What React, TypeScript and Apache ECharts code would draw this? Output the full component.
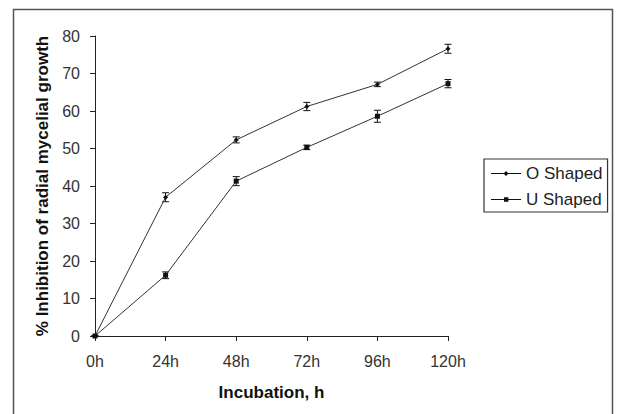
import React, { useEffect, useRef } from "react";
import * as echarts from "echarts";

const categories = ["0h", "24h", "48h", "72h", "96h", "120h"];
const oShaped = [0, 37, 52.3, 61.2, 67.1, 76.6];
const oErr = [0, 1.2, 0.8, 1.1, 0.6, 1.2];
const uShaped = [0, 16.2, 41.3, 50.3, 58.6, 67.3];
const uErr = [0, 0.9, 1.2, 0.6, 1.6, 1.1];
const yTicks = { min: 0, max: 80, interval: 10 };

const errData = (vals: number[], errs: number[]) =>
  vals.map((v, i) => [i, v - errs[i], v + errs[i]]);

const renderErr = (params: any, api: any) => {
  const x = api.value(0);
  const lo = api.coord([x, api.value(1)]);
  const hi = api.coord([x, api.value(2)]);
  const w = 3.5;
  const style = { stroke: "#111", lineWidth: 1 };
  return {
    type: "group",
    children: [
      { type: "line", shape: { x1: lo[0], y1: lo[1], x2: hi[0], y2: hi[1] }, style },
      { type: "line", shape: { x1: lo[0] - w, y1: lo[1], x2: lo[0] + w, y2: lo[1] }, style },
      { type: "line", shape: { x1: hi[0] - w, y1: hi[1], x2: hi[0] + w, y2: hi[1] }, style },
    ],
  };
};

const diamondIcon =
  "path://M0,2.1 L30,2.1 L30,2.9 L0,2.9 Z M15,0 L17.5,2.5 L15,5 L12.5,2.5 Z";
const squareIcon =
  "path://M0,2.1 L30,2.1 L30,2.9 L0,2.9 Z M13,0.3 L17.4,0.3 L17.4,4.7 L13,4.7 Z M13,0 L13,0 L13,5 Z";

export default function App() {
  const ref = useRef<HTMLDivElement>(null);
  useEffect(() => {
    if (!ref.current) return;
    const chart = echarts.init(ref.current, undefined, { renderer: "svg" });
    const font = "'Liberation Sans', Arial, sans-serif";
    chart.setOption({
      animation: false,
      backgroundColor: "#fff",
      textStyle: { fontFamily: font },
      graphic: [
        {
          type: "rect",
          shape: { x: 13.5, y: 9.5, width: 599, height: 430 },
          style: { fill: "none", stroke: "#555", lineWidth: 1.5 },
          silent: true,
        },
      ],
      grid: { left: 95, right: 169, top: 36, bottom: 78 },
      legend: {
        orient: "vertical",
        left: 484,
        top: 159,
        padding: [6, 5, 4, 7],
        borderColor: "#333",
        borderWidth: 1.2,
        itemWidth: 30,
        itemHeight: 5,
        itemGap: 9,
        textStyle: { fontSize: 17, color: "#222", fontFamily: font, padding: [0, 0, 0, 0] },
        data: [
          { name: "O Shaped", icon: diamondIcon },
          { name: "U Shaped", icon: squareIcon },
        ],
      },
      xAxis: {
        type: "category",
        data: categories,
        boundaryGap: false,
        name: "Incubation, h",
        nameLocation: "middle",
        nameGap: 48,
        nameTextStyle: { fontSize: 17, fontWeight: "bold", color: "#111", fontFamily: font },
        axisLine: { lineStyle: { color: "#222", width: 1 } },
        axisTick: { show: true, length: 5, lineStyle: { color: "#222" } },
        axisLabel: { fontSize: 16, color: "#333", margin: 17, fontFamily: font },
        splitLine: { show: false },
      },
      yAxis: {
        type: "value",
        min: yTicks.min,
        max: yTicks.max,
        interval: yTicks.interval,
        name: "% Inhibition of radial mycelial growth",
        nameLocation: "middle",
        nameGap: 42,
        nameTextStyle: { fontSize: 17, fontWeight: "bold", color: "#111", fontFamily: font },
        axisLine: { show: true, lineStyle: { color: "#222", width: 1 } },
        axisTick: { show: true, length: 5, lineStyle: { color: "#222" } },
        axisLabel: { fontSize: 16, color: "#333", margin: 15, fontFamily: font },
        splitLine: { show: false },
      },
      series: [
        {
          name: "O Shaped",
          type: "line",
          data: oShaped,
          symbol: "diamond",
          symbolSize: 5,
          itemStyle: { color: "#111" },
          lineStyle: { color: "#333", width: 1 },
        },
        {
          name: "U Shaped",
          type: "line",
          data: uShaped,
          symbol: "rect",
          symbolSize: 5,
          itemStyle: { color: "#111" },
          lineStyle: { color: "#333", width: 1 },
        },
        {
          type: "custom",
          data: errData(oShaped, oErr),
          renderItem: renderErr,
          encode: { x: 0, y: [1, 2] },
          silent: true,
          z: 3,
        },
        {
          type: "custom",
          data: errData(uShaped, uErr),
          renderItem: renderErr,
          encode: { x: 0, y: [1, 2] },
          silent: true,
          z: 3,
        },
      ],
    });
    return () => chart.dispose();
  }, []);
  return (
    <div
      ref={ref}
      style={{ position: "fixed", left: 0, top: 0, width: 617, height: 414 }}
    />
  );
}
